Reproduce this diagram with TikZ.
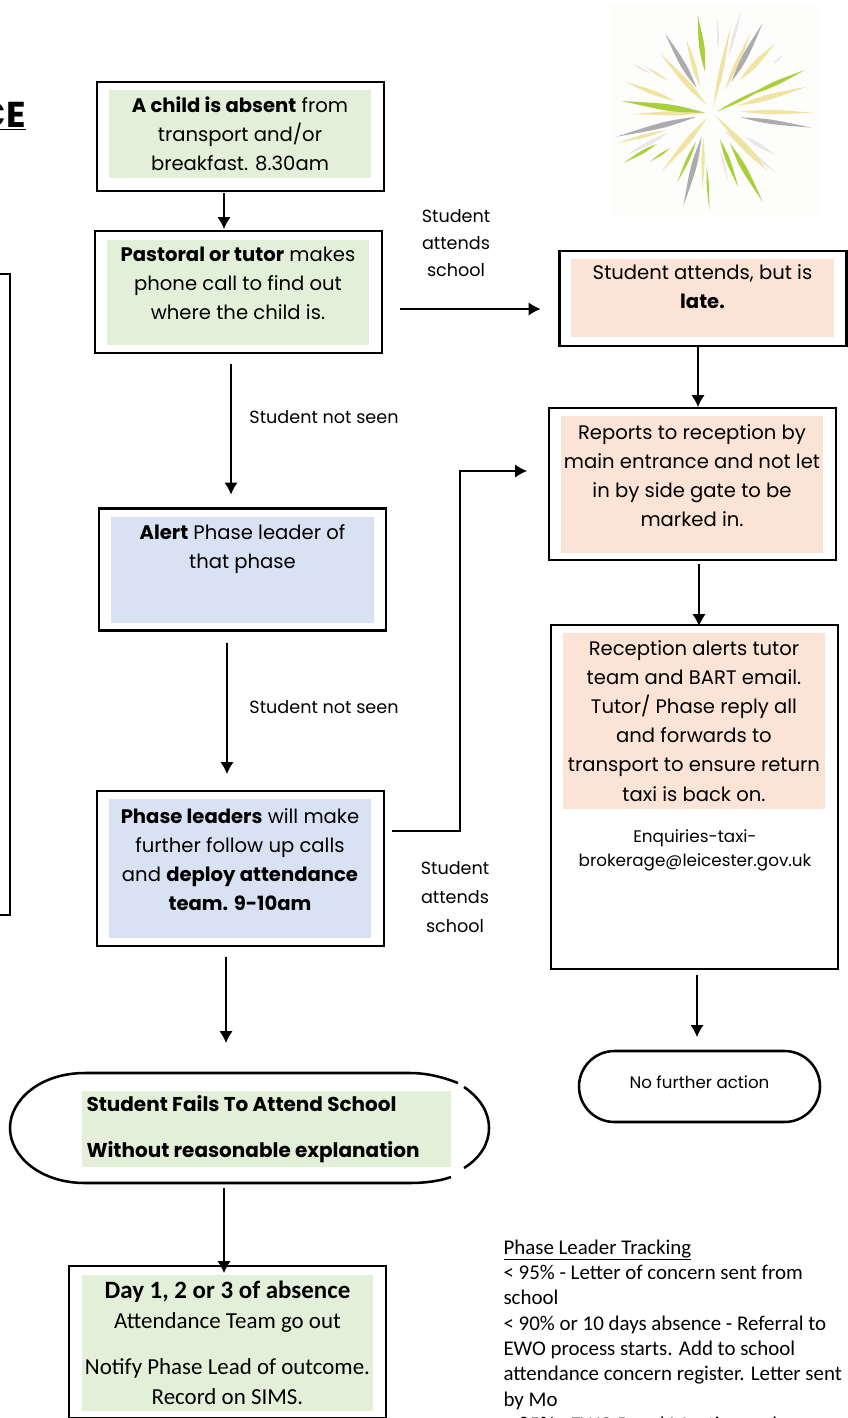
\documentclass[tikz,border=0pt]{standalone}
\usepackage{fontspec}
\setmainfont{Poppins}
\newfontfamily\calfont{Carlito}
\usetikzlibrary{arrows.meta,calc,shapes.misc}
\definecolor{boxgreen}{HTML}{E2EFD9}
\definecolor{boxorange}{HTML}{FBE4D5}
\definecolor{boxblue}{HTML}{D9E2F3}
\definecolor{rayyellow}{HTML}{F0E4A2}
\definecolor{raygreen}{HTML}{A9CF3B}
\definecolor{raygray}{HTML}{ABABB0}
\definecolor{raypale}{HTML}{EBE6E9}
\definecolor{starback}{HTML}{FDFDFB}
\tikzset{every picture/.style={line width=0.75pt}}
\tikzset{frame/.style={draw,line width=1.9pt,outer sep=0pt,inner sep=0pt},
  inbox/.style={outer sep=0pt,inner sep=0pt,align=center,font=\fontsize{14.7}{21.8}\selectfont},
  flow/.style={line width=0.9pt,-{Latex[length=9pt,width=10pt]}},
  lbl/.style={align=center,font=\fontsize{13.2}{22}\selectfont}}

\begin{document}
\begin{tikzpicture}[x=0.75pt,y=0.75pt,yscale=-1,xscale=1]
	\useasboundingbox (0,0) rectangle (847,1418);

	%Shape: Rectangle
	\node[frame,minimum width=300pt,minimum height=480.75pt] (sidebox) at (-190,594.5) {};
	% Text Node
	\node[anchor=east,inner sep=0pt,font=\fontsize{27}{30}\selectfont\bfseries] (heading) at (26,116) {\underline{CE}};

	%Shape: Star
	\fill[starback] (610,5) rectangle (820,215);
	\begin{scope}[shift={(600,0)},scale=1/3]
	\foreach \xa/\ya/\xb/\yb/\w/\c in {
		422/35/385/170/3/raypale, 352/55/355/150/2/raypale, 550/165/520/190/2/raypale,
		525/465/435/410/4/raypale, 530/520/370/390/4/raypale, 385/545/360/450/2/raypale,
		80/465/205/398/4/raypale, 95/190/150/220/2/raypale,
		258/115/300/260/4/rayyellow, 180/160/320/315/5/rayyellow, 392/80/340/320/4/rayyellow,
		452/100/375/270/4/rayyellow, 525/130/420/240/5/rayyellow, 620/260/410/318/5/rayyellow,
		640/338/420/335/4/rayyellow, 345/345/500/510/6/rayyellow, 308/565/310/410/3/rayyellow,
		185/515/320/355/5/rayyellow, 50/430/200/390/3/rayyellow, 100/342/320/338/4/rayyellow,
		75/245/225/303/4/rayyellow, 135/200/205/242/2/rayyellow,
		195/100/290/265/5/raygray, 488/70/395/245/5/raygray, 635/383/420/352/4/raygray,
		250/618/305/410/5/raygray, 50/410/290/350/5/raygray,
		293/45/315/215/5/raygreen, 615/210/450/285/4/raygreen, 520/250/350/335/3/raygreen,
		488/605/390/430/5/raygreen, 415/562/360/418/4/raygreen, 328/630/320/500/2/raygreen,
		232/547/288/425/3/raygreen, 150/485/210/445/2/raygreen, 72/488/170/432/3/raygreen,
		65/303/315/338/6/raygreen}
		\fill[\c] (\xa,\ya) .. controls ($(\xa,\ya)!.6!(\xb,\yb)!1.6*\w pt!90:(\xb,\yb)$) .. (\xb,\yb)
			.. controls ($(\xa,\ya)!.6!(\xb,\yb)!1.6*\w pt!-90:(\xb,\yb)$) .. cycle;
	\end{scope}

	%Shape: Rectangle
	\node[frame,minimum width=215.25pt,minimum height=81.75pt] (absent) at (240.5,136.5) {};
	\node[inbox,fill=boxgreen,minimum width=196.5pt,minimum height=66pt] (absenttxt) at (240,134) {\textbf{A child is absent} from\\transport and/or\\breakfast. 8.30am};
	%Shape: Rectangle
	\node[frame,minimum width=215.25pt,minimum height=91.5pt] (pastoral) at (238.5,292) {};
	\node[inbox,fill=boxgreen,minimum width=196.5pt,minimum height=78.75pt] (pastoraltxt) at (238,292.5) {\textbf{Pastoral or tutor} makes\\phone call to find out\\where the child is.\\[-8pt]~};
	%Shape: Rectangle
	\node[frame,minimum width=215.25pt,minimum height=91.5pt] (alert) at (242.5,569.5) {};
	\node[inbox,fill=boxblue,minimum width=197.25pt,minimum height=79.5pt] (alerttxt) at (242.5,570) {\textbf{Alert} Phase leader of\\that phase\\~\\[-8pt]~};
	%Shape: Rectangle
	\node[frame,minimum width=215.25pt,minimum height=116.25pt] (phase) at (240.5,868.5) {};
	\node[inbox,fill=boxblue,minimum width=196.5pt,minimum height=104.25pt] (phasetxt) at (240,868.5) {\textbf{Phase leaders} will make\\further follow up calls\\and \textbf{deploy attendance}\\\textbf{team. 9-10am}\\[-8.5pt]~};
	%Shape: Rectangle
	\node[frame,minimum width=215.25pt,minimum height=71.25pt] (late) at (703,298.5) {};
	\node[inbox,fill=boxorange,minimum width=197.25pt,minimum height=58.5pt] (latetxt) at (702.5,298) {Student attends, but is\\\textbf{late.}\\[-4pt]~};
	%Shape: Rectangle
	\node[frame,minimum width=215.25pt,minimum height=114pt] (reports) at (692.5,484) {};
	\node[inbox,fill=boxorange,minimum width=196.5pt,minimum height=102.75pt] (reportstxt) at (692,484.5) {Reports to reception by\\main entrance and not let\\in by side gate to be\\marked in.\\[-8pt]~};
	%Shape: Rectangle
	\node[frame,minimum width=215.25pt,minimum height=258pt] (reception) at (694.5,797) {};
	\node[inbox,fill=boxorange,minimum width=196.5pt,minimum height=132pt] (receptiontxt) at (694,721) {Reception alerts tutor\\team and BART email.\\Tutor/ Phase reply all\\and forwards to\\transport to ensure return\\taxi is back on.};
	% Text Node
	\node[lbl,font=\fontsize{12.6}{18}\selectfont] (taximail) at (695,850) {Enquiries-taxi-\\brokerage@leicester.gov.uk};
	%Shape: Rounded Rectangle
	\node[draw,line width=1.9pt,rounded rectangle,minimum width=180.75pt,minimum height=53.25pt,outer sep=0pt,inner sep=0pt,font=\fontsize{12.5}{14}\selectfont] (nofurther) at (699.5,1086.5) {\raisebox{6.75pt}{No further action}};

	%Shape: Terminator
	\draw[line width=1.9pt] (458,1083) .. controls (440,1076) and (425,1073) .. (410,1073) -- (85,1073)
		.. controls (40,1073) and (10,1100) .. (10,1128) .. controls (10,1156) and (40,1183) .. (85,1183)
		-- (410,1183) .. controls (425,1183) and (440,1181) .. (451,1177);
	\draw[line width=1.9pt] (464,1087) .. controls (480,1098) and (489,1112) .. (489,1128) .. controls (489,1144) and (480,1158) .. (464,1168);
	\node[inbox,fill=boxgreen,minimum width=276.75pt,minimum height=57pt,align=left,font=\fontsize{15}{34.5}\selectfont] (fails) at (266.5,1129) {\parbox{270pt}{\textbf{Student Fails To Attend School}\\\textbf{Without reasonable explanation}}};

	%Shape: Rectangle
	\node[frame,minimum width=237.75pt,minimum height=114pt] (day) at (227.5,1342) {};
	\node[inbox,fill=boxgreen,minimum width=218.25pt,minimum height=102pt,font=\calfont\fontsize{17.2}{22.5}\selectfont] (daytxt) at (227.5,1343) {{\fontsize{18.7}{22.5}\selectfont\textbf{Day 1, 2 or 3 of absence}}\\Attendance Team go out\\[12pt]Notify Phase Lead of outcome.\\Record on SIMS.};

	%Straight Lines
	\draw[flow] ([shift={(-16.5,2)}]absent.south) -- ([shift={(-14.5,-2)}]pastoral.north);
	\draw[flow] ([shift={(-7.5,11)}]pastoral.south) -- ([shift={(-11.5,-14)}]alert.north);
	\draw[flow] ([shift={(-15.5,12)}]alert.south) -- ([shift={(-13.5,-17)}]phase.north);
	\draw[flow] ([shift={(-14.5,11)}]phase.south) -- ([shift={(-40.5,-48)}]fails.north);
	\draw[flow] ([shift={(-42.5,21)}]fails.south) -- ([shift={(-3.5,7)}]day.north);
	\draw[flow] ([shift={(18,17)}]pastoral.east) -- ([shift={(-19,10.5)}]late.west);
	\draw[flow] ([shift={(8,-37.5)}]phase.east) -- ++(68,0) |- ([shift={(-22,-13)}]reports.west);
	\draw[flow] ([shift={(-5,1)}]late.south) -- ([shift={(5.5,-1)}]reports.north);
	\draw[flow] ([shift={(6.5,4)}]reports.south) -- ([shift={(4.5,1)}]reception.north);
	\draw[flow] ([shift={(2.5,6)}]reception.south) -- ([shift={(-2.5,-14)}]nofurther.north);

	% Text Node
	\node[lbl,font=\fontsize{13.2}{20.25}\selectfont] (attendsa) at (456,243) {Student\\attends\\school};
	% Text Node
	\node[lbl] (attendsb) at (455,897) {Student\\attends\\school};
	% Text Node
	\node[lbl] (notseena) at (324,417) {Student not seen};
	% Text Node
	\node[lbl] (notseenb) at (324,707) {Student not seen};
	% Text Node
	\node[anchor=north west,inner sep=0pt,align=left,font=\calfont\fontsize{15.7}{19}\selectfont] (tracking) at (503,1239) {\underline{Phase Leader Tracking}\\< 95\% - Letter of concern sent from\\school\\< 90\% or 10 days absence - Referral to\\EWO process starts. Add to school\\attendance concern register. Letter sent\\by Mo\\< 85\% - EWO Panel Meeting and};
\end{tikzpicture}
\end{document}
